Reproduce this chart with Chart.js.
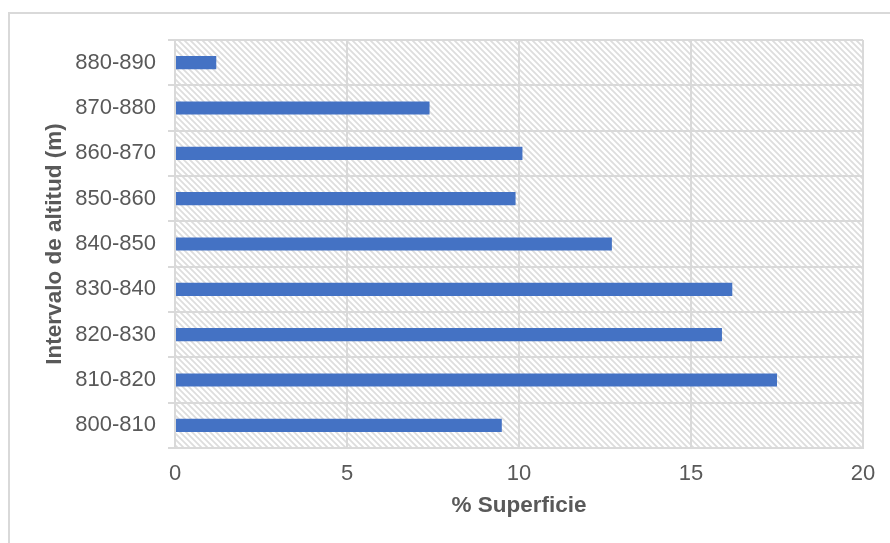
<!DOCTYPE html>
<html>
<head>
<meta charset="utf-8">
<script src="https://cdn.jsdelivr.net/npm/chart.js@4"></script>
<style>
  html, body { margin: 0; padding: 0; background: #ffffff; }
  #wrap { width: 890px; height: 543px; }
</style>
</head>
<body>
<div id="wrap"><canvas id="chart" width="890" height="543"></canvas></div>
<script>
// Altitude bands, listed top to bottom
const altitudeBands = ['880-890', '870-880', '860-870', '850-860', '840-850', '830-840', '820-830', '810-820', '800-810'];
// Share of the surface in each band (%)
const surfaceShare = [1.2, 7.4, 10.1, 9.9, 12.7, 16.2, 15.9, 17.5, 9.5];
// Value axis ticks
const shareTicks = [0, 5, 10, 15, 20];

const axisTitleX = '% Superficie';
const axisTitleY = 'Intervalo de altitud (m)';

const GRID = '#d9d9d9';
const TEXT = '#595959';
const FONT = '"Liberation Sans", Arial, sans-serif';

// Diagonal hatch tile used as the plot-area fill
function makeHatch() {
  const p = 6;
  const c = document.createElement('canvas');
  c.width = p; c.height = p;
  const g = c.getContext('2d');
  g.fillStyle = '#ffffff';
  g.fillRect(0, 0, p, p);
  g.strokeStyle = '#dddddd';
  g.lineWidth = 1.8;
  g.beginPath();
  g.moveTo(-1, -1); g.lineTo(p + 1, p + 1);
  g.moveTo(p - 1, -1); g.lineTo(p + 1, 1);
  g.moveTo(-1, p - 1); g.lineTo(1, p + 1);
  g.stroke();
  return c;
}

const backdrop = {
  id: 'backdrop',
  beforeDraw(chart) {
    const { ctx, chartArea: a } = chart;
    ctx.save();
    ctx.fillStyle = '#ffffff';
    ctx.fillRect(0, 0, chart.width, chart.height);
    // outer frame
    ctx.strokeStyle = GRID;
    ctx.lineWidth = 2;
    ctx.strokeRect(9, 13, 1200, 1200);
    // hatched plot area
    ctx.fillStyle = ctx.createPattern(makeHatch(), 'repeat');
    ctx.fillRect(a.left, a.top, a.right - a.left, a.bottom - a.top);
    ctx.restore();
  }
};

new Chart(document.getElementById('chart'), {
  type: 'bar',
  data: {
    labels: altitudeBands,
    datasets: [{
      data: surfaceShare,
      backgroundColor: '#4472c4',
      borderWidth: 0,
      barPercentage: 0.29,
      categoryPercentage: 1
    }]
  },
  options: {
    indexAxis: 'y',
    responsive: false,
    animation: false,
    layout: { padding: { top: 40, right: 27, left: 0, bottom: 0 } },
    plugins: { legend: { display: false }, tooltip: { enabled: false } },
    scales: {
      x: {
        min: 0, max: 20,
        afterBuildTicks(scale) { scale.ticks = shareTicks.map(v => ({ value: v })); },
        afterFit(scale) { scale.height = 95; },
        grid: { color: GRID, lineWidth: 2, drawTicks: false },
        border: { color: GRID, width: 2 },
        ticks: { color: TEXT, font: { family: FONT, size: 22 }, padding: 13 },
        title: {
          display: true, text: axisTitleX, color: TEXT,
          font: { family: FONT, size: 22.5, weight: 'bold' },
          padding: { top: 0, bottom: 24 }
        }
      },
      y: {
        afterFit(scale) { scale.width = 175; },
        grid: { color: GRID, lineWidth: 2, tickLength: 7, offset: true },
        border: { color: GRID, width: 2 },
        ticks: { color: TEXT, font: { family: FONT, size: 22 }, padding: 12 },
        title: {
          display: true, text: axisTitleY, color: TEXT,
          font: { family: FONT, size: 22.5, weight: 'bold' },
          padding: { top: 41, bottom: 0 }
        }
      }
    }
  },
  plugins: [backdrop]
});
</script>
</body>
</html>
